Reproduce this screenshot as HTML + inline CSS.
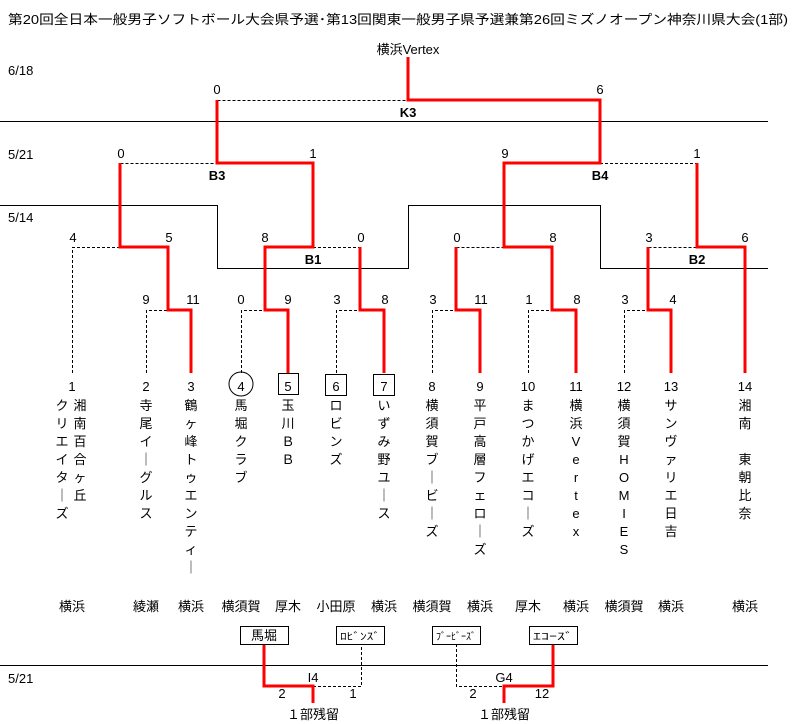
<!DOCTYPE html>
<html><head><meta charset="utf-8"><style>
html,body{margin:0;padding:0;background:#fff}
svg{display:block;font-family:"Liberation Sans","Noto Sans CJK JP",sans-serif}
text{font-size:13px;fill:#000}
.v{text-anchor:middle}
.b{font-weight:bold}
</style></head><body>
<svg width="800" height="724" xmlns="http://www.w3.org/2000/svg">
<text x="8" y="24" textLength="780" lengthAdjust="spacingAndGlyphs">第20回全日本一般男子ソフトボール大会県予選･第13回関東一般男子県予選兼第26回ミズノオープン神奈川県大会(1部)</text>
<text x="408" y="54" class="v">横浜Vertex</text>
<text x="8" y="75">6/18</text>
<text x="8" y="159">5/21</text>
<text x="8" y="222">5/14</text>
<text x="8" y="683">5/21</text>
<!-- black lines -->
<g stroke="#000" stroke-width="1" fill="none">
<line x1="0" y1="121.5" x2="768" y2="121.5"/>
<polyline points="0,205.5 217.5,205.5 217.5,268.5 408.5,268.5 408.5,205.5 600.5,205.5 600.5,268.5 768,268.5"/>
<line x1="0" y1="665.5" x2="768" y2="665.5"/>
</g>
<!-- dashed losers -->
<g stroke="#000" stroke-width="1" fill="none" stroke-dasharray="3,2">
<polyline points="217.5,100.5 408,100.5"/>
<polyline points="120.5,163.5 217,163.5"/>
<polyline points="600,163.5 697.5,163.5 "/>
<polyline points="72.5,373 72.5,247.5 120,247.5"/>
<polyline points="313,247.5 360.5,247.5"/>
<polyline points="456.5,247.5 504,247.5"/>
<polyline points="648.5,247.5 697,247.5"/>
<polyline points="146.5,373 146.5,310.5 168,310.5"/>
<polyline points="241.5,373 241.5,310.5 265,310.5"/>
<polyline points="336.5,373 336.5,310.5 360,310.5"/>
<polyline points="432.5,373 432.5,310.5 456,310.5"/>
<polyline points="528.5,373 528.5,310.5 552,310.5"/>
<polyline points="624.5,373 624.5,310.5 648,310.5"/>
<polyline points="313,686.5 361.5,686.5 361.5,644"/>
<polyline points="456.5,644 456.5,686.5 504,686.5"/>
</g>
<!-- red winners -->
<g stroke="#f00" stroke-width="3" fill="none">
<polyline points="408,57 408,100 600,100 600,163 504,163 504,247 552,247 552,310 576,310 576,373"/>
<polyline points="217,100 217,163 313,163 313,247 265,247 265,310 288,310 288,373"/>
<polyline points="120,163 120,247 168,247 168,310 191,310 191,373"/>
<polyline points="360,247 360,310 384,310 384,373"/>
<polyline points="456,247 456,310 480,310 480,373"/>
<polyline points="697,163 697,247 745,247 745,373"/>
<polyline points="648,247 648,310 671,310 671,373"/>
<polyline points="264,644 264,686 313,686 313,703"/>
<polyline points="553,644 553,686 504,686 504,703"/>
</g>
<!-- scores -->
<g class="v">
<text x="217" y="94" class="v">0</text><text x="600" y="94" class="v">6</text>
<text x="121" y="158" class="v">0</text><text x="313" y="158" class="v">1</text>
<text x="505" y="158" class="v">9</text><text x="697" y="158" class="v">1</text>
<text x="73" y="242" class="v">4</text><text x="169" y="242" class="v">5</text>
<text x="265" y="242" class="v">8</text><text x="361" y="242" class="v">0</text>
<text x="457" y="242" class="v">0</text><text x="553" y="242" class="v">8</text>
<text x="649" y="242" class="v">3</text><text x="745" y="242" class="v">6</text>
<text x="146" y="304" class="v">9</text><text x="193" y="304" class="v">11</text>
<text x="241" y="304" class="v">0</text><text x="288" y="304" class="v">9</text>
<text x="337" y="304" class="v">3</text><text x="385" y="304" class="v">8</text>
<text x="433" y="304" class="v">3</text><text x="481" y="304" class="v">11</text>
<text x="529" y="304" class="v">1</text><text x="577" y="304" class="v">8</text>
<text x="625" y="304" class="v">3</text><text x="673" y="304" class="v">4</text>
</g>
<text x="408" y="117" class="v b">K3</text>
<text x="217" y="180" class="v b">B3</text>
<text x="600" y="180" class="v b">B4</text>
<text x="313" y="264" class="v b">B1</text>
<text x="697" y="264" class="v b">B2</text>
<!-- seed markers -->
<circle cx="241" cy="384" r="12" fill="none" stroke="#000"/>
<rect x="278.5" y="373.5" width="20" height="21" fill="none" stroke="#000"/>
<rect x="325.5" y="374.5" width="21" height="21" fill="none" stroke="#000"/>
<rect x="373.5" y="374.5" width="21" height="21" fill="none" stroke="#000"/>
<!-- numbers -->
<g>
<text x="72" y="391" class="v">1</text><text x="146" y="391" class="v">2</text><text x="191" y="391" class="v">3</text>
<text x="241" y="391" class="v">4</text><text x="288" y="391" class="v">5</text><text x="336" y="391" class="v">6</text>
<text x="384" y="391" class="v">7</text><text x="432" y="391" class="v">8</text><text x="480" y="391" class="v">9</text>
<text x="528" y="391" class="v">10</text><text x="576" y="391" class="v">11</text><text x="624" y="391" class="v">12</text>
<text x="671" y="391" class="v">13</text><text x="745" y="391" class="v">14</text>
</g>
<!-- vertical names -->
<g class="v">
<text class="v" y="410"><tspan x="62">ク</tspan><tspan x="62" dy="18">リ</tspan><tspan x="62" dy="18">エ</tspan><tspan x="62" dy="18">イ</tspan><tspan x="62" dy="18">タ</tspan><tspan x="62" dy="18">｜</tspan><tspan x="62" dy="18">ズ</tspan></text>
<text class="v" y="410"><tspan x="80">湘</tspan><tspan x="80" dy="18">南</tspan><tspan x="80" dy="18">百</tspan><tspan x="80" dy="18">合</tspan><tspan x="80" dy="18">ヶ</tspan><tspan x="80" dy="18">丘</tspan></text>
<text class="v" y="410"><tspan x="146">寺</tspan><tspan x="146" dy="18">尾</tspan><tspan x="146" dy="18">イ</tspan><tspan x="146" dy="18">｜</tspan><tspan x="146" dy="18">グ</tspan><tspan x="146" dy="18">ル</tspan><tspan x="146" dy="18">ス</tspan></text>
<text class="v" y="410"><tspan x="191">鶴</tspan><tspan x="191" dy="18">ヶ</tspan><tspan x="191" dy="18">峰</tspan><tspan x="191" dy="18">ト</tspan><tspan x="191" dy="18">ゥ</tspan><tspan x="191" dy="18">エ</tspan><tspan x="191" dy="18">ン</tspan><tspan x="191" dy="18">テ</tspan><tspan x="191" dy="18">ィ</tspan><tspan x="191" dy="18">｜</tspan></text>
<text class="v" y="410"><tspan x="241">馬</tspan><tspan x="241" dy="18">堀</tspan><tspan x="241" dy="18">ク</tspan><tspan x="241" dy="18">ラ</tspan><tspan x="241" dy="18">ブ</tspan></text>
<text class="v" y="410"><tspan x="288">玉</tspan><tspan x="288" dy="18">川</tspan><tspan x="288" dy="18">Ｂ</tspan><tspan x="288" dy="18">Ｂ</tspan></text>
<text class="v" y="410"><tspan x="336">ロ</tspan><tspan x="336" dy="18">ビ</tspan><tspan x="336" dy="18">ン</tspan><tspan x="336" dy="18">ズ</tspan></text>
<text class="v" y="410"><tspan x="384">い</tspan><tspan x="384" dy="18">ず</tspan><tspan x="384" dy="18">み</tspan><tspan x="384" dy="18">野</tspan><tspan x="384" dy="18">ユ</tspan><tspan x="384" dy="18">｜</tspan><tspan x="384" dy="18">ス</tspan></text>
<text class="v" y="410"><tspan x="432">横</tspan><tspan x="432" dy="18">須</tspan><tspan x="432" dy="18">賀</tspan><tspan x="432" dy="18">ブ</tspan><tspan x="432" dy="18">｜</tspan><tspan x="432" dy="18">ビ</tspan><tspan x="432" dy="18">｜</tspan><tspan x="432" dy="18">ズ</tspan></text>
<text class="v" y="410"><tspan x="480">平</tspan><tspan x="480" dy="18">戸</tspan><tspan x="480" dy="18">高</tspan><tspan x="480" dy="18">層</tspan><tspan x="480" dy="18">フ</tspan><tspan x="480" dy="18">ェ</tspan><tspan x="480" dy="18">ロ</tspan><tspan x="480" dy="18">｜</tspan><tspan x="480" dy="18">ズ</tspan></text>
<text class="v" y="410"><tspan x="528">ま</tspan><tspan x="528" dy="18">つ</tspan><tspan x="528" dy="18">か</tspan><tspan x="528" dy="18">げ</tspan><tspan x="528" dy="18">エ</tspan><tspan x="528" dy="18">コ</tspan><tspan x="528" dy="18">｜</tspan><tspan x="528" dy="18">ズ</tspan></text>
<text class="v" y="410"><tspan x="576">横</tspan><tspan x="576" dy="18">浜</tspan><tspan x="576" dy="18">V</tspan><tspan x="576" dy="18">e</tspan><tspan x="576" dy="18">r</tspan><tspan x="576" dy="18">t</tspan><tspan x="576" dy="18">e</tspan><tspan x="576" dy="18">x</tspan></text>
<text class="v" y="410"><tspan x="624">横</tspan><tspan x="624" dy="18">須</tspan><tspan x="624" dy="18">賀</tspan><tspan x="624" dy="18">H</tspan><tspan x="624" dy="18">O</tspan><tspan x="624" dy="18">M</tspan><tspan x="624" dy="18">I</tspan><tspan x="624" dy="18">E</tspan><tspan x="624" dy="18">S</tspan></text>
<text class="v" y="410"><tspan x="671">サ</tspan><tspan x="671" dy="18">ン</tspan><tspan x="671" dy="18">ヴ</tspan><tspan x="671" dy="18">ァ</tspan><tspan x="671" dy="18">リ</tspan><tspan x="671" dy="18">エ</tspan><tspan x="671" dy="18">日</tspan><tspan x="671" dy="18">吉</tspan></text>
<text class="v" y="410"><tspan x="745">湘</tspan><tspan x="745" dy="18">南</tspan><tspan x="745" dy="36">東</tspan><tspan x="745" dy="18">朝</tspan><tspan x="745" dy="18">比</tspan><tspan x="745" dy="18">奈</tspan></text>
</g>
<!-- cities -->
<g>
<text x="72" y="611" class="v">横浜</text><text x="146" y="611" class="v">綾瀬</text><text x="191" y="611" class="v">横浜</text>
<text x="241" y="611" class="v">横須賀</text><text x="288" y="611" class="v">厚木</text><text x="336" y="611" class="v">小田原</text>
<text x="384" y="611" class="v">横浜</text><text x="432" y="611" class="v">横須賀</text><text x="480" y="611" class="v">横浜</text>
<text x="528" y="611" class="v">厚木</text><text x="576" y="611" class="v">横浜</text><text x="624" y="611" class="v">横須賀</text>
<text x="671" y="611" class="v">横浜</text><text x="745" y="611" class="v">横浜</text>
</g>
<!-- bottom boxes -->
<g fill="none" stroke="#000">
<rect x="240.5" y="626.5" width="48" height="18"/>
<rect x="336.5" y="626.5" width="48" height="18"/>
<rect x="432.5" y="626.5" width="48" height="18"/>
<rect x="529.5" y="626.5" width="48" height="18"/>
</g>
<text x="264" y="640" class="v">馬堀</text>
<text x="360" y="640" class="v" style="font-size:10px" textLength="40" lengthAdjust="spacingAndGlyphs">ﾛﾋﾞﾝｽﾞ</text>
<text x="456" y="640" class="v" style="font-size:10px" textLength="40" lengthAdjust="spacingAndGlyphs">ﾌﾞｰﾋﾞｰｽﾞ</text>
<text x="553" y="640" class="v" style="font-size:10px" textLength="40" lengthAdjust="spacingAndGlyphs">ｴｺｰｽﾞ</text>
<text x="313" y="682" class="v">I4</text>
<text x="504" y="682" class="v">G4</text>
<text x="282" y="698" class="v">2</text><text x="353" y="698" class="v">1</text>
<text x="473" y="698" class="v">2</text><text x="542" y="698" class="v">12</text>
<text x="313" y="719" class="v">１部残留</text>
<text x="504" y="719" class="v">１部残留</text>
</svg>
</body></html>
